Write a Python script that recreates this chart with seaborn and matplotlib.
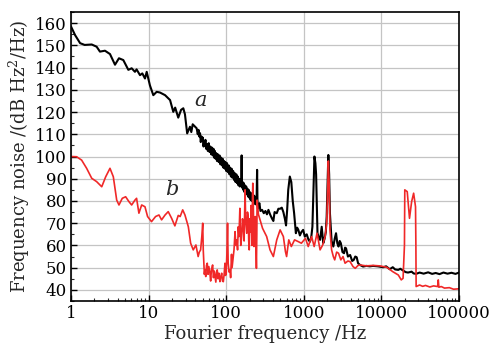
import numpy as np
import pandas as pd
import seaborn as sns
import matplotlib.pyplot as plt
from matplotlib.ticker import LogLocator, MultipleLocator, NullFormatter

# curve a (black)
freq_a = [1.0, 1.13, 1.31, 1.5, 1.85, 2.14, 2.36, 2.74, 3.18, 3.69, 4.15, 4.72, 5.48, 6.05, 6.67, 7.0,
          7.75, 8.3, 8.98, 9.45, 10.4, 11.5, 12.7, 14.0, 16.3, 18.9, 20.8, 22, 24.1, 26.2, 28, 29.4,
          31.4, 34.1, 35.5, 37, 41.6,
          43, 44, 45, 46, 47, 48, 49, 50, 51, 52, 53, 54, 55, 56.5, 58, 59.5, 61, 62.5, 64, 65.5, 67,
          68.5, 70, 71.5, 73, 74.5, 76, 78, 80, 82, 84, 86, 88, 90, 92, 94, 96, 98, 100, 102.5, 105,
          107.5, 110, 112.5, 115, 117.5, 120, 123, 126, 129, 132, 135, 138, 141, 144, 147, 150, 153,
          156, 158, 160, 163, 166, 169, 172, 175, 178, 181, 184, 188, 191, 195, 198, 202, 206, 210,
          214, 218, 222, 226, 230, 234, 238, 242, 246, 250, 253, 256, 260, 268, 276, 290, 305, 320,
          335, 350,
          367, 390, 405, 420, 448, 470, 495, 520, 545, 570, 590, 610, 630, 660, 690, 720, 750, 790,
          820, 850, 890, 930, 980, 1030, 1090, 1150, 1200, 1250, 1290, 1330, 1370, 1410, 1440, 1470,
          1500, 1560, 1620, 1700, 1780, 1850, 1920, 1970, 2020, 2070, 2120, 2170, 2280, 2400, 2500,
          2600, 2700, 2800, 2900, 3000, 3150, 3300, 3400, 3500, 3700, 3950, 4200, 4400, 4600, 4800,
          5000, 5300, 5800, 6400, 7100, 7800, 9000, 10500, 11500, 12800, 14000, 15000, 16500, 17500,
          19000, 20500, 22000, 24500, 26000, 28000, 31000, 35000, 40000, 45000, 50000, 56000, 63000,
          71000, 80000, 90000, 100000]
noise_a = [158.5, 154.6, 151, 150.2, 150.4, 149.4, 147.2, 147.6, 146.1, 141.3, 144.2, 143.4, 139, 139.7, 138.1, 139.2,
           136.6, 137.4, 135.1, 138.1, 132, 127.6, 129.1, 128.8, 127.6, 125.4, 120.1, 122, 117.5, 121, 121.7, 119,
           110.4, 113.4, 111, 114.5, 112.7,
           110, 112, 109, 110.5, 106.5, 109, 107, 108.5, 104.5, 107, 105, 107.5, 103.5, 105.5, 102.5, 106, 102, 104.5, 101, 104, 100.5,
           103.5, 99.5, 102.5, 99, 101.5, 98, 101, 97.5, 100.5, 96.5, 99.5, 96, 99, 95, 98, 94.5, 97.5, 93.5, 97, 93,
           96, 92, 95, 91, 94.5, 90.5, 93.5, 89.5, 92.5, 88.5, 92, 88, 91, 87, 90, 86.5, 89,
           87, 100.5, 86, 88.5, 85, 88, 84, 87, 83.5, 86.5, 83, 85.5, 82, 85, 81.5, 84, 80.5, 83.5,
           80, 83, 79.5, 82.5, 79, 82, 78.5, 81, 79, 94, 79, 76.5, 78, 79, 75.5, 76, 74.5, 75.5,
           74, 76,
           74, 72, 71, 75, 74.5, 76.5, 76.5, 77, 75, 72, 69, 76, 85, 91, 88.5, 80, 74.5, 65.5,
           68, 67, 64.5, 66, 67, 64, 65, 62.5, 61.7, 64, 68.4, 85, 100, 97, 92, 78,
           65.5, 63.5, 62.5, 68.4, 61, 63, 66, 73, 88, 100.7, 92, 74.5, 62, 59.5, 63,
           65.5, 61, 59.5, 62, 61, 57, 56.5, 59, 58.7, 55, 55.7, 53, 53.5, 55, 54.7,
           52, 51.2, 50.5, 50.8, 50.6, 50.8, 50.6, 50.2, 50.6, 49.3, 50.2, 49.2, 49, 49.5,
           48.7, 48, 47.8, 48.2, 47.4, 47.2, 47.8, 47.3, 47.9, 47.2, 47.6, 47.1, 47.8,
           47.3, 47.7, 47.2, 47.8]

# curve b (red)
freq_b = [1.0, 1.18, 1.37, 1.59, 1.85, 2.14, 2.49, 2.8, 3.18, 3.51, 3.88, 4.15, 4.58, 5.06, 5.58, 6.05,
          6.67, 7.0, 7.5, 8.14, 8.98, 9.7, 10.9, 12.3, 13.6, 14.7, 16.3, 17.9, 19.8, 21.8, 24.1, 25.5,
          27.5, 29.4, 32.5, 34.8, 37.6, 40.7,
          43.5, 45, 46.8, 48.5, 49.8, 50.6, 51.5, 52.3, 53.2, 54.5, 55.7, 57, 58.3, 59.7, 61.7, 63, 64.5,
          66.8, 68.5, 70, 71.8, 73.5, 75, 76.6, 78.5, 80.5, 83, 85, 87.5, 89.5, 91.8, 94, 96.4, 98, 100,
          102, 104, 106, 109, 112, 114, 117, 119, 122, 126, 130, 133, 137, 140, 143, 146, 150, 154, 158,
          162, 166, 170, 175, 178, 180, 184, 188, 192, 195, 198, 202, 206, 209, 212, 215, 218, 220, 222,
          225, 228, 232, 237, 241, 245, 248, 250, 255, 260, 265, 280, 294, 332, 367, 405,
          448, 495, 545, 580, 600, 640, 690, 760, 850, 930, 1050, 1140, 1260, 1360, 1480, 1620, 1750,
          1880, 1970, 2030, 2070, 2120, 2170, 2280, 2400, 2500, 2650, 2800, 3000, 3200, 3400, 3700,
          3950, 4300, 4600, 5000, 5300, 6400, 7800, 9500, 11700, 14000, 16500, 18000, 19000, 19800,
          20000, 21500, 23000, 24500, 26000, 27500, 27800, 28000, 31000, 34000, 37000, 42000, 47000,
          53000, 54000, 55000, 59000, 65000, 75000, 85000, 100000]
noise_b = [100, 99.9, 98.4, 94.7, 90.2, 88.7, 86.4, 90.9, 94.7, 90.9, 80.4, 78.2, 81.2, 81.9, 79.7, 78.2,
           80.4, 81.2, 74.5, 78.2, 77.4, 73, 70.7, 73, 73.7, 71.5, 73.7, 75.2, 72.2, 68.8, 73.5, 73,
           76, 73.7, 68.4, 61, 58, 60.2,
           55, 57, 58, 64, 70, 58, 52, 47, 49, 46, 51, 52, 47, 50.5, 47.5, 44, 49,
           51.2, 45.5, 48.5, 46, 43.5, 48, 49, 45, 47.5, 43.7, 46, 47.5, 44, 43.7, 47, 52, 46.5, 47.5,
           56, 70, 52, 48, 49, 45.5, 56, 50, 53.5, 58, 66.2, 60, 62.5, 58, 68.4, 64, 76.7, 60, 64,
           72, 68.4, 62, 85, 72, 70, 65.5, 75, 73, 62, 58, 72, 66, 78, 70, 60, 82, 88, 84,
           70, 59.5, 68, 73, 60, 49.7, 65, 80.4, 77, 74, 73, 70, 67.7, 64, 58, 55,
           62.5, 67, 64, 57.2, 55, 62.5, 59.5, 62.5, 61.7, 61, 63.2, 59.5, 64, 59.5, 65.5, 58, 60.2,
           64, 70, 85, 98, 88, 67, 58, 55, 53.5, 57, 56.5, 53.5, 55, 52, 53,
           52.7, 50.5, 49.7, 51, 51.2, 50.8, 51, 50.8, 50.2, 48.2, 46.7, 44.5, 45.2, 60,
           85, 84.2, 72.2, 79.7, 83.5, 77.4, 60, 41.5, 42.2, 41.6, 42, 41.3, 41.8,
           41.5, 44.5, 41.2, 41.5, 40.8, 41, 40.3, 40.5]

yticks = list(range(40, 170, 10))
xticks = [1, 10, 100, 1000, 10000, 100000]
xticklabels = ['1', '10', '100', '1000', '10000', '100000']

df_a = pd.DataFrame({'freq': freq_a, 'noise': noise_a})
df_b = pd.DataFrame({'freq': freq_b, 'noise': noise_b})

sns.set_style('white')
plt.rcParams['font.family'] = ['DejaVu Serif']
plt.rcParams['mathtext.fontset'] = 'dejavuserif'

fig = plt.figure(figsize=(4.92, 3.44), dpi=100)
ax = fig.add_axes([0.1443, 0.125, 0.7887, 0.840])

sns.lineplot(data=df_a, x='freq', y='noise', color='black', linewidth=1.5,
             estimator=None, sort=False, ax=ax)
sns.lineplot(data=df_b, x='freq', y='noise', color='#f02828', linewidth=1.2,
             estimator=None, sort=False, ax=ax)

ax.set_xscale('log')
ax.set_xlim(1, 100000)
ax.set_ylim(35, 165)
ax.set_yticks(yticks)
ax.set_xticks(xticks)
ax.set_xticklabels(xticklabels)
ax.xaxis.set_minor_locator(LogLocator(base=10, subs=np.arange(2, 10)))
ax.xaxis.set_minor_formatter(NullFormatter())
ax.yaxis.set_minor_locator(MultipleLocator(5))
ax.grid(True, which='major', color='#c4c4c4', linewidth=0.9)
ax.tick_params(axis='both', which='both', bottom=True, left=True, top=False, right=False)
ax.tick_params(axis='both', which='major', direction='in', length=4.5, width=1,
               labelsize=12, pad=3, colors='black')
ax.tick_params(axis='both', which='minor', direction='in', length=2.5, width=0.8)
for s in ax.spines.values():
    s.set_color('black')
    s.set_linewidth(1.2)

ax.text(47, 125.4, 'a', fontsize=15, style='italic', ha='center', va='center')
ax.text(20, 85, 'b', fontsize=15, style='italic', ha='center', va='center')

ax.set_xlabel('Fourier frequency /Hz', fontsize=13, labelpad=2)
ax.set_ylabel('Frequency noise /(dB Hz$^2$/Hz)', fontsize=13, labelpad=2)

fig.savefig('out.png', dpi=100)
